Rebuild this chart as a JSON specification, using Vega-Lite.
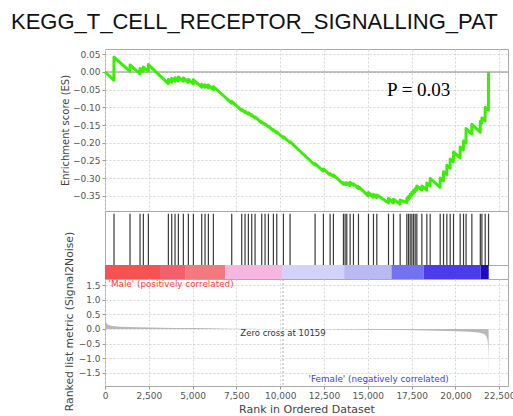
{
  "$schema": "https://vega.github.io/schema/vega-lite/v6.json",
  "autosize": {"type": "pad"},
  "padding": {"left": 11, "top": 10, "right": 5, "bottom": 5},
  "bounds": "flush",
  "spacing": 0,
  "title": {
    "text": "KEGG_T_CELL_RECEPTOR_SIGNALLING_PAT",
    "anchor": "start",
    "frame": "group",
    "dx": -94,
    "offset": 15,
    "font": "Liberation Sans",
    "fontSize": 22,
    "fontWeight": "normal",
    "color": "#111111"
  },
  "config": {
    "view": {"stroke": "#aaaaaa", "strokeWidth": 1},
    "axis": {
      "labelFont": "DejaVu Sans",
      "labelFontSize": 9,
      "labelColor": "#555555",
      "titleFont": "DejaVu Sans",
      "titleFontWeight": "normal",
      "titleColor": "#444444",
      "tickColor": "#999999",
      "tickSize": 3,
      "labelPadding": 2,
      "domain": false,
      "gridColor": "#d6d6d6",
      "gridDash": [2, 2],
      "labelFlush": false,
      "labelOverlap": false,
      "labelBound": false
    }
  },
  "datasets": {
    "es": [
      {"rank": 0, "es": 0}, {"rank": 505, "es": -0.023}, {"rank": 514, "es": 0.042},
      {"rank": 1420, "es": 0.002}, {"rank": 1428, "es": 0.02}, {"rank": 1995, "es": -0.005},
      {"rank": 2000, "es": 0.01}, {"rank": 2185, "es": 0.002}, {"rank": 2190, "es": 0.014},
      {"rank": 2470, "es": 0.002}, {"rank": 2475, "es": 0.021}, {"rank": 3610, "es": -0.033},
      {"rank": 3617, "es": -0.021}, {"rank": 3800, "es": -0.029}, {"rank": 3807, "es": -0.018},
      {"rank": 3990, "es": -0.026}, {"rank": 3997, "es": -0.016}, {"rank": 4180, "es": -0.025},
      {"rank": 4187, "es": -0.014}, {"rank": 4466, "es": -0.026}, {"rank": 4473, "es": -0.017},
      {"rank": 4750, "es": -0.029}, {"rank": 4758, "es": -0.021}, {"rank": 5040, "es": -0.034},
      {"rank": 5045, "es": -0.022}, {"rank": 5515, "es": -0.043}, {"rank": 5520, "es": -0.035},
      {"rank": 5705, "es": -0.043}, {"rank": 5710, "es": -0.036}, {"rank": 5895, "es": -0.045},
      {"rank": 5900, "es": -0.037}, {"rank": 6180, "es": -0.05}, {"rank": 6185, "es": -0.041},
      {"rank": 6565, "es": -0.058}, {"rank": 7225, "es": -0.088}, {"rank": 7232, "es": -0.083},
      {"rank": 7714, "es": -0.105}, {"rank": 7796, "es": -0.109}, {"rank": 7803, "es": -0.106},
      {"rank": 7986, "es": -0.114}, {"rank": 7993, "es": -0.111}, {"rank": 8176, "es": -0.119},
      {"rank": 8183, "es": -0.115}, {"rank": 8367, "es": -0.124}, {"rank": 8374, "es": -0.121},
      {"rank": 8557, "es": -0.13}, {"rank": 8564, "es": -0.127}, {"rank": 8938, "es": -0.144},
      {"rank": 8945, "es": -0.141}, {"rank": 9128, "es": -0.149}, {"rank": 9135, "es": -0.147},
      {"rank": 9319, "es": -0.155}, {"rank": 9326, "es": -0.153}, {"rank": 9604, "es": -0.166},
      {"rank": 9611, "es": -0.163}, {"rank": 9795, "es": -0.172}, {"rank": 9802, "es": -0.169},
      {"rank": 10176, "es": -0.186}, {"rank": 10183, "es": -0.183}, {"rank": 10556, "es": -0.2},
      {"rank": 10563, "es": -0.197}, {"rank": 11135, "es": -0.224}, {"rank": 11983, "es": -0.263},
      {"rank": 11990, "es": -0.259}, {"rank": 12459, "es": -0.28}, {"rank": 12466, "es": -0.274},
      {"rank": 12840, "es": -0.291}, {"rank": 12847, "es": -0.287}, {"rank": 13030, "es": -0.295},
      {"rank": 13037, "es": -0.291}, {"rank": 13601, "es": -0.317}, {"rank": 13608, "es": -0.313},
      {"rank": 13697, "es": -0.317}, {"rank": 13704, "es": -0.314}, {"rank": 13792, "es": -0.318},
      {"rank": 13799, "es": -0.313}, {"rank": 13983, "es": -0.321}, {"rank": 13990, "es": -0.312},
      {"rank": 14173, "es": -0.32}, {"rank": 14180, "es": -0.316}, {"rank": 14459, "es": -0.329},
      {"rank": 14466, "es": -0.324}, {"rank": 15030, "es": -0.35}, {"rank": 15037, "es": -0.341},
      {"rank": 15315, "es": -0.354}, {"rank": 15322, "es": -0.346}, {"rank": 15506, "es": -0.355},
      {"rank": 15513, "es": -0.348}, {"rank": 16173, "es": -0.37}, {"rank": 16180, "es": -0.357},
      {"rank": 16458, "es": -0.37}, {"rank": 16465, "es": -0.36}, {"rank": 16838, "es": -0.373},
      {"rank": 16845, "es": -0.362}, {"rank": 17219, "es": -0.369}, {"rank": 17226, "es": -0.358},
      {"rank": 17314, "es": -0.361}, {"rank": 17321, "es": -0.352}, {"rank": 17409, "es": -0.355},
      {"rank": 17416, "es": -0.346}, {"rank": 17505, "es": -0.349}, {"rank": 17512, "es": -0.34},
      {"rank": 17600, "es": -0.343}, {"rank": 17607, "es": -0.335}, {"rank": 17695, "es": -0.338},
      {"rank": 17702, "es": -0.33}, {"rank": 17790, "es": -0.334}, {"rank": 17797, "es": -0.322},
      {"rank": 18076, "es": -0.334}, {"rank": 18083, "es": -0.322}, {"rank": 18361, "es": -0.334},
      {"rank": 18368, "es": -0.314}, {"rank": 18551, "es": -0.322}, {"rank": 18558, "es": -0.301},
      {"rank": 19123, "es": -0.326}, {"rank": 19130, "es": -0.3}, {"rank": 19313, "es": -0.308},
      {"rank": 19320, "es": -0.282}, {"rank": 19503, "es": -0.29}, {"rank": 19510, "es": -0.264},
      {"rank": 19693, "es": -0.272}, {"rank": 19700, "es": -0.246}, {"rank": 19883, "es": -0.254},
      {"rank": 19890, "es": -0.226}, {"rank": 20263, "es": -0.243}, {"rank": 20270, "es": -0.212},
      {"rank": 20454, "es": -0.22}, {"rank": 20461, "es": -0.195}, {"rank": 20600, "es": -0.201},
      {"rank": 20607, "es": -0.16}, {"rank": 20930, "es": -0.175}, {"rank": 20937, "es": -0.148},
      {"rank": 21413, "es": -0.17}, {"rank": 21420, "es": -0.14}, {"rank": 21502, "es": -0.144},
      {"rank": 21509, "es": -0.13}, {"rank": 21692, "es": -0.138}, {"rank": 21699, "es": -0.1},
      {"rank": 21882, "es": -0.108}, {"rank": 21889, "es": 0}
    ],
    "hits": [
      {"rank": 514}, {"rank": 1428}, {"rank": 2000}, {"rank": 2190}, {"rank": 2475},
      {"rank": 3617}, {"rank": 3807}, {"rank": 3997}, {"rank": 4187}, {"rank": 4473},
      {"rank": 4758}, {"rank": 5045}, {"rank": 5520}, {"rank": 5710}, {"rank": 5900},
      {"rank": 6185}, {"rank": 7232}, {"rank": 7803}, {"rank": 7993}, {"rank": 8183},
      {"rank": 8374}, {"rank": 8564}, {"rank": 8945}, {"rank": 9135}, {"rank": 9326},
      {"rank": 9611}, {"rank": 9802}, {"rank": 10183}, {"rank": 10563}, {"rank": 11990},
      {"rank": 12466}, {"rank": 12847}, {"rank": 13037}, {"rank": 13608}, {"rank": 13704},
      {"rank": 13799}, {"rank": 13990}, {"rank": 14180}, {"rank": 14466}, {"rank": 15037},
      {"rank": 15322}, {"rank": 15513}, {"rank": 16180}, {"rank": 16465}, {"rank": 16845},
      {"rank": 17226}, {"rank": 17321}, {"rank": 17416}, {"rank": 17512}, {"rank": 17607},
      {"rank": 17702}, {"rank": 17797}, {"rank": 18083}, {"rank": 18368}, {"rank": 18558},
      {"rank": 19130}, {"rank": 19320}, {"rank": 19510}, {"rank": 19700}, {"rank": 19890},
      {"rank": 20270}, {"rank": 20461}, {"rank": 20607}, {"rank": 20937}, {"rank": 21420},
      {"rank": 21509}, {"rank": 21699}, {"rank": 21889}
    ],
    "band": [
      {"start": 0, "end": 3140, "seg": 1},
      {"start": 3140, "end": 4570, "seg": 2},
      {"start": 4570, "end": 6860, "seg": 3},
      {"start": 6860, "end": 10100, "seg": 4},
      {"start": 10100, "end": 13650, "seg": 5},
      {"start": 13650, "end": 16350, "seg": 6},
      {"start": 16350, "end": 18180, "seg": 7},
      {"start": 18180, "end": 21430, "seg": 8},
      {"start": 21430, "end": 21900, "seg": 9}
    ],
    "metric": [
      {"rank": 0, "metric": 0.35}, {"rank": 20, "metric": 0.3}, {"rank": 60, "metric": 0.22},
      {"rank": 120, "metric": 0.17}, {"rank": 200, "metric": 0.14}, {"rank": 350, "metric": 0.11},
      {"rank": 550, "metric": 0.09}, {"rank": 850, "metric": 0.075}, {"rank": 1300, "metric": 0.065},
      {"rank": 1900, "metric": 0.058}, {"rank": 2600, "metric": 0.05}, {"rank": 3200, "metric": 0.042},
      {"rank": 4000, "metric": 0.036}, {"rank": 5000, "metric": 0.03}, {"rank": 6000, "metric": 0.026},
      {"rank": 6700, "metric": 0.02}, {"rank": 7500, "metric": 0.01}, {"rank": 8800, "metric": 0.004},
      {"rank": 10159, "metric": 0}, {"rank": 11500, "metric": -0.005}, {"rank": 12500, "metric": -0.012},
      {"rank": 13500, "metric": -0.02}, {"rank": 15000, "metric": -0.026}, {"rank": 16500, "metric": -0.034},
      {"rank": 17800, "metric": -0.045}, {"rank": 19000, "metric": -0.06}, {"rank": 20000, "metric": -0.075},
      {"rank": 20800, "metric": -0.095}, {"rank": 21300, "metric": -0.12}, {"rank": 21550, "metric": -0.15},
      {"rank": 21700, "metric": -0.2}, {"rank": 21790, "metric": -0.28}, {"rank": 21840, "metric": -0.4},
      {"rank": 21870, "metric": -0.6}, {"rank": 21885, "metric": -1.0}, {"rank": 21895, "metric": -1.85}
    ]
  },
  "vconcat": [
    {
      "width": 403,
      "height": 162,
      "layer": [
        {
          "data": {"values": [{}]},
          "mark": {"type": "rule", "color": "#8c8c8c", "strokeWidth": 1},
          "encoding": {"y": {"datum": 0, "type": "quantitative"}}
        },
        {
          "data": {"name": "es"},
          "mark": {"type": "line", "color": "#3bee05", "strokeWidth": 3, "strokeJoin": "round"},
          "encoding": {
            "x": {
              "field": "rank", "type": "quantitative",
              "scale": {"domain": [0, 23000], "nice": false, "zero": false},
              "axis": {"values": [0, 2500, 5000, 7500, 10000, 12500, 15000, 17500, 20000, 22500], "tickCount": 20, "labels": false, "ticks": false, "title": null, "grid": true}
            },
            "y": {
              "field": "es", "type": "quantitative",
              "scale": {"domain": [-0.393, 0.065], "nice": false, "zero": false},
              "axis": {
                "values": [-0.35, -0.3, -0.25, -0.2, -0.15, -0.1, -0.05, 0, 0.05],
                "tickCount": 20,
                "format": ".2f", "grid": true, "labelOverlap": false,
                "title": "Enrichment score (ES)", "titleFontSize": 10, "titlePadding": 2
              }
            }
          }
        },
        {
          "data": {"values": [{"rank": 16097, "es": -0.068, "label": "P = 0.03"}]},
          "mark": {"type": "text", "font": "Liberation Serif", "fontSize": 19, "align": "left", "baseline": "alphabetic", "color": "#000000"},
          "encoding": {
            "x": {"field": "rank", "type": "quantitative"},
            "y": {"field": "es", "type": "quantitative"},
            "text": {"field": "label"}
          }
        }
      ]
    },
    {
      "width": 403,
      "height": 54,
      "data": {"name": "hits"},
      "mark": {"type": "rule", "color": "#3a3a3a", "strokeWidth": 1.2},
      "encoding": {
        "x": {"field": "rank", "type": "quantitative", "scale": {"domain": [0, 23000], "nice": false, "zero": false}, "axis": null},
        "y": {"datum": 0, "type": "quantitative", "scale": {"domain": [0, 1]}, "axis": null},
        "y2": {"datum": 0.95}
      }
    },
    {
      "width": 403,
      "height": 14,
      "data": {"name": "band"},
      "mark": {"type": "rect"},
      "encoding": {
        "x": {"field": "start", "type": "quantitative", "scale": {"domain": [0, 23000], "nice": false, "zero": false}, "axis": null},
        "x2": {"field": "end"},
        "color": {
          "field": "seg", "type": "ordinal", "legend": null,
          "scale": {
            "domain": [1, 2, 3, 4, 5, 6, 7, 8, 9],
            "range": ["#f75252", "#f2606e", "#f27a7f", "#f6b6e0", "#d2d2fa", "#b9b9f4", "#7373f2", "#4a3bef", "#1c0bc4"]
          }
        }
      }
    },
    {
      "width": 403,
      "height": 107,
      "layer": [
        {
          "data": {"name": "metric"},
          "mark": {"type": "area", "color": "#b8b8b8", "interpolate": "linear"},
          "encoding": {
            "x": {
              "field": "rank", "type": "quantitative",
              "scale": {"domain": [0, 23000], "nice": false, "zero": false},
              "axis": {
                "values": [0, 2500, 5000, 7500, 10000, 12500, 15000, 17500, 20000, 22500],
                "tickCount": 20,
                "format": ",d", "grid": true, "labelOverlap": false,
                "title": "Rank in Ordered Dataset", "titleFontSize": 11, "titlePadding": 3
              }
            },
            "y": {
              "field": "metric", "type": "quantitative",
              "scale": {"domain": [-1.95, 1.71], "nice": false, "zero": false},
              "axis": {
                "values": [-1.5, -1, -0.5, 0, 0.5, 1, 1.5],
                "tickCount": 20,
                "format": ".1f", "grid": true, "labelOverlap": false,
                "title": "Ranked list metric (Signal2Noise)", "titleFontSize": 10.8, "titlePadding": 4, "titleY": 42
              }
            }
          }
        },
        {
          "data": {"values": [{"rank": 10159}]},
          "mark": {"type": "rule", "color": "#aaaaaa", "strokeDash": [2, 2], "strokeWidth": 1},
          "encoding": {"x": {"field": "rank", "type": "quantitative"}}
        },
        {
          "data": {"values": [{"rank": 200, "metric": 1.54, "label": "'Male' (positively correlated)"}]},
          "mark": {"type": "text", "font": "DejaVu Sans", "fontSize": 8.8, "align": "left", "baseline": "middle", "color": "#ff3b3b"},
          "encoding": {
            "x": {"field": "rank", "type": "quantitative"},
            "y": {"field": "metric", "type": "quantitative"},
            "text": {"field": "label"}
          }
        },
        {
          "data": {"values": [{"rank": 15617, "metric": -1.71, "label": "'Female' (negatively correlated)"}]},
          "mark": {"type": "text", "font": "DejaVu Sans", "fontSize": 8.8, "align": "center", "baseline": "middle", "color": "#3b3bff"},
          "encoding": {
            "x": {"field": "rank", "type": "quantitative"},
            "y": {"field": "metric", "type": "quantitative"},
            "text": {"field": "label"}
          }
        },
        {
          "data": {"values": [{"rank": 10159, "metric": -0.137, "label": "Zero cross at 10159"}]},
          "mark": {"type": "text", "font": "DejaVu Sans", "fontSize": 8.5, "align": "center", "baseline": "middle", "color": "#333333"},
          "encoding": {
            "x": {"field": "rank", "type": "quantitative"},
            "y": {"field": "metric", "type": "quantitative"},
            "text": {"field": "label"}
          }
        }
      ]
    }
  ]
}
